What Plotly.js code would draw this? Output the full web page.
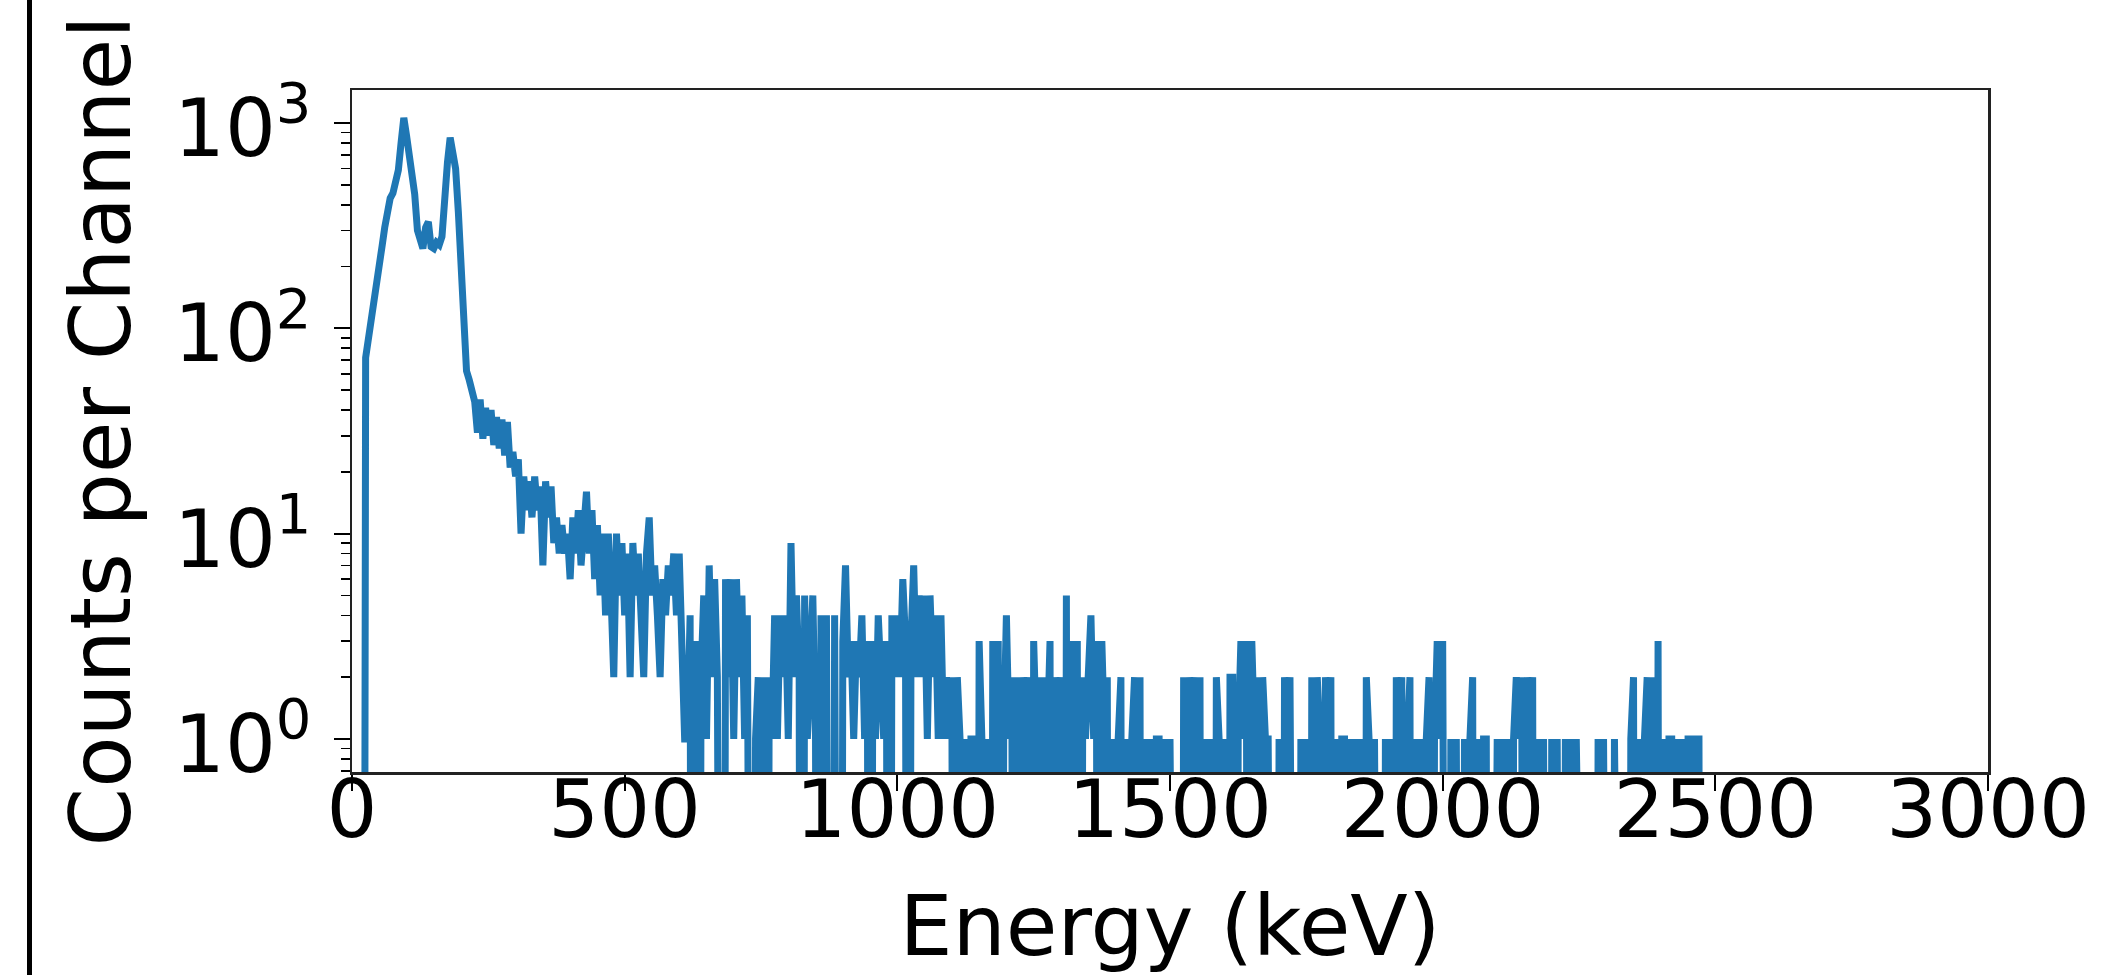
<!DOCTYPE html>
<html>
<head>
<meta charset="utf-8">
<script src="https://cdn.plot.ly/plotly-3.0.1.min.js"></script>
<style>
  html, body { margin: 0; padding: 0; background: #ffffff; }
  #wrap { position: relative; width: 2120px; height: 975px; overflow: hidden; }
  #chart { position: absolute; left: 0; top: 0; width: 2120px; height: 975px; }
  #edge { position: absolute; left: 27px; top: 0; width: 5px; height: 975px; background: #000; }
</style>
</head>
<body>
<div id="wrap">
  <div id="chart"></div>
  <div id="edge"></div>
</div>
<script>
// Energy calibration of the spectrum (keV per channel)
const keVPerChannel = 5;

// Counts per channel, channel 0 = 0 keV
const channelCounts = [
  0,0,0,0,0,72,88,105,122,150,
  190,250,310,370,430,455,520,590,800,1060,
  870,680,620,450,300,270,245,310,330,250,
  245,262,255,280,450,640,850,720,600,370,
  220,115,62,56,50,44,31,45,29,41,
  30,40,27,37,26,36,24,35,21,25,
  19,23,10,19,13,18,12,19,13,17,
  7,18,12,17,9,12,8,11,8,10,
  6,12,8,13,7,12,16,8,13,6,
  11,5,10,4,10,5,2,10,5,9,
  4,8,2,9,5,8,4,2,8,12,
  5,7,4,2,6,4,7,5,8,4,
  8,3,1,1,4,0,3,0,2,5,
  1,7,2,6,2,0,0,6,2,6,
  1,6,2,5,1,4,1,0,1,2,
  0,2,0,2,1,4,1,4,2,4,
  1,9,2,5,2,0,5,1,2,5,
  1,0,4,1,4,1,0,4,1,0,
  3,7,2,3,1,3,2,4,1,3,
  0,3,1,4,2,1,3,0,4,2,
  4,2,6,3,0,3,7,2,5,2,
  5,1,5,2,4,1,4,1,2,1,
  2,0,2,1,0,1,0,1,1,0,
  3,1,0,1,0,3,1,3,0,1,
  4,1,2,0,2,0,2,1,2,0,
  3,1,2,0,2,1,3,0,2,1,
  2,0,5,0,3,1,3,0,2,1,
  2,4,1,3,0,3,1,2,0,1,
  0,1,2,0,1,0,1,2,0,2,
  0,1,0,1,0,1,1,0,1,0,
  1,0,0,0,0,2,0,2,1,2,
  0,2,0,1,0,1,0,2,1,0,
  1,0,2,2,0,1,3,1,3,0,
  3,1,2,0,2,1,1,0,0,0,
  1,0,2,1,2,0,0,0,1,0,
  1,0,2,0,2,1,0,2,1,2,
  0,1,0,1,1,0,1,0,1,0,
  1,0,2,1,0,1,0,0,0,1,
  0,1,0,2,1,2,0,1,2,0,
  1,0,1,0,1,2,0,1,3,1,
  3,0,0,1,0,1,0,0,1,0,
  1,2,0,1,0,1,1,0,0,0,
  1,0,1,0,1,0,1,2,1,2,
  0,2,1,2,0,1,0,1,0,0,
  1,0,1,0,0,1,0,1,0,1,
  0,0,0,0,0,0,0,1,0,1,
  0,0,0,1,0,0,0,0,0,1,
  2,0,1,0,1,2,0,2,0,3,
  0,1,0,1,1,0,1,0,1,0,
  1,1,0,1,1,0
];

// Axis ticks
const xTickVals = [0, 500, 1000, 1500, 2000, 2500, 3000];
const xTickText = ['0', '500', '1000', '1500', '2000', '2500', '3000'];
const yTickVals = [1, 10, 100, 1000];
const yTickText = ['10<sup>0</sup>', '10<sup>1</sup>', '10<sup>2</sup>', '10<sup>3</sup>'];

const xTitle = 'Energy (keV)';
const yTitle = 'Counts per Channel';

// channel -> energy via calibration
const energies = channelCounts.map((c, i) => i * keVPerChannel);
// like matplotlib's log clipping: empty channels drop far below the axis
const yPlot = channelCounts.map(c => (c > 0 ? c : 1e-6));

const trace = {
  x: energies,
  y: yPlot,
  type: 'scatter',
  mode: 'lines',
  line: { color: '#1f77b4', width: 7 },
  hoverinfo: 'skip'
};

const tickFont = { family: 'DejaVu Sans, sans-serif', size: 80, color: '#000' };
const titleFont = { family: 'DejaVu Sans, sans-serif', size: 84, color: '#000' };

const layout = {
  width: 2120,
  height: 975,
  margin: { l: 352, r: 132, t: 90, b: 203, pad: 0 },
  paper_bgcolor: '#ffffff',
  plot_bgcolor: '#ffffff',
  showlegend: false,
  font: tickFont,
  xaxis: {
    range: [0, 3000],
    tickmode: 'array',
    tickvals: xTickVals,
    ticktext: xTickText,
    ticks: 'outside',
    ticklen: 16,
    tickwidth: 2,
    tickcolor: '#000',
    tickfont: tickFont,
    ticklabelstandoff: -50,
    showline: true,
    linecolor: '#222',
    linewidth: 2.5,
    mirror: true,
    showgrid: false,
    zeroline: false,
    title: { text: xTitle, font: titleFont, standoff: 56 }
  },
  yaxis: {
    type: 'log',
    range: [-0.161, 3.161],
    tickmode: 'array',
    tickvals: yTickVals,
    ticktext: yTickText,
    ticks: 'outside',
    ticklen: 16,
    tickwidth: 2,
    tickcolor: '#000',
    tickfont: tickFont,
    ticklabelshift: 5,
    ticklabelstandoff: 6,
    minor: { ticks: 'outside', ticklen: 9, tickwidth: 1.6, tickcolor: '#000', dtick: 'D1', showgrid: false },
    showline: true,
    linecolor: '#222',
    linewidth: 2.5,
    mirror: true,
    showgrid: false,
    zeroline: false,
    title: { text: yTitle, font: titleFont, standoff: 16 }
  }
};

Plotly.newPlot('chart', [trace], layout, { displayModeBar: false, staticPlot: true });
</script>
</body>
</html>
